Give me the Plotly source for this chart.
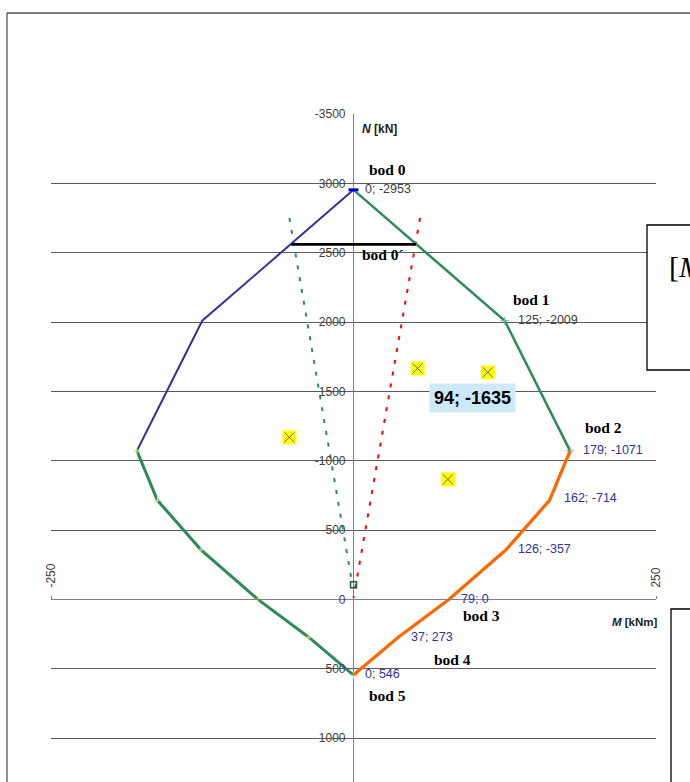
import plotly.graph_objects as go

# ---------------- data (M [kNm], N [kN]) ----------------
upper_left_M = [0, -125, -179]
upper_right_M = [0, 125, 179]
upper_N = [-2953, -2009, -1071]

lower_left_M = [-179, -162, -126, -79, -37, 0]
lower_right_M = [179, 162, 126, 79, 37, 0]
lower_N = [-1071, -714, -357, 0, 273, 546]

bod0p_M = [-51.5, 51.5]
bod0p_N = [-2560, -2560]

ecc_green_M = [-53, -1]
ecc_green_N = [-2750, -110]
ecc_red_M = [55, 0]
ecc_red_N = [-2750, -10]

load_M = [53, 111, -53, 78]
load_N = [-1665, -1637, -1168, -865]

origin_M = [0]
origin_N = [-105]

result_text = "94; -1635"
result_pos = (98, -1449)

value_labels = [
    ("0; -2953", 7.5, -2956, "#404040"),
    ("125; -2009", 134, -2011, "#404040"),
    ("179; -1071", 188, -1074, "#333399"),
    ("162; -714", 172, -728, "#333399"),
    ("126; -357", 134, -360, "#333399"),
    ("79; 0", 87, 0, "#333399"),
    ("37; 273", 46, 274, "#333399"),
    ("0; 546", 8, 535, "#333399"),
]

bod_labels = [
    ("bod 0", 11, -3100),
    ("bod 0´", 5, -2487),
    ("bod 1", 130, -2163),
    ("bod 2", 190, -1240),
    ("bod 3", 89, 115),
    ("bod 4", 65, 433),
    ("bod 5", 11, 692),
]

y_tick_vals = [-3500, -3000, -2500, -2000, -1500, -1000, -500, 0, 500, 1000]
y_tick_text = ["-3500", "3000", "2500", "2000", "1500", "-1000", "-500", "0", "500", "1000"]
x_tick_vals = [-250, 250]
x_tick_text = ["-250", "250"]

SANS = "Liberation Sans, Arial, sans-serif"
SERIF = "Liberation Serif, Times New Roman, serif"

BLUE = "#333399"
GREEN = "#2e8b57"
ORANGE = "#ff6600"
RED = "#ff0000"

W, H = 690, 782
px_per_N = 624 / 4500.0
y_bottom = 1000 + 44 / px_per_N

fig = go.Figure()

fig.add_trace(go.Scatter(x=ecc_green_M, y=ecc_green_N, mode="lines",
                         line=dict(color=GREEN, width=2, dash="4px,8px"), hoverinfo="skip"))
fig.add_trace(go.Scatter(x=ecc_red_M, y=ecc_red_N, mode="lines",
                         line=dict(color=RED, width=2, dash="4px,8px"), hoverinfo="skip"))

fig.add_trace(go.Scatter(x=upper_left_M, y=upper_N, mode="lines",
                         line=dict(color=BLUE, width=2)))
fig.add_trace(go.Scatter(x=upper_right_M, y=upper_N, mode="lines+markers",
                         line=dict(color=GREEN, width=2.5),
                         marker=dict(symbol="cross-thin-open", size=6, color="#7fae9a",
                                     line=dict(width=1, color="#7fae9a"))))
fig.add_trace(go.Scatter(x=lower_left_M, y=lower_N, mode="lines+markers",
                         line=dict(color=GREEN, width=3),
                         marker=dict(symbol="cross-thin-open", size=5, color="#d8d890",
                                     line=dict(width=1, color="#d8d890"))))
fig.add_trace(go.Scatter(x=lower_right_M, y=lower_N, mode="lines",
                         line=dict(color=ORANGE, width=3.2)))

fig.add_trace(go.Scatter(x=[upper_left_M[0]], y=[upper_N[0]], mode="markers",
                         marker=dict(symbol="line-ew-open", size=7, color="#0000cc",
                                     line=dict(width=3, color="#0000cc"))))

fig.add_trace(go.Scatter(x=bod0p_M, y=bod0p_N, mode="lines",
                         line=dict(color="black", width=2.8)))

fig.add_trace(go.Scatter(x=origin_M, y=origin_N, mode="markers",
                         marker=dict(symbol="square-open", size=6, color="#1a5e3a",
                                     line=dict(width=1.5, color="#1a5e3a"))))

fig.add_trace(go.Scatter(x=load_M, y=load_N, mode="markers",
                         marker=dict(symbol="square", size=14, color="#ffff00",
                                     line=dict(width=0))))
fig.add_trace(go.Scatter(x=load_M, y=load_N, mode="markers",
                         marker=dict(symbol="x-thin-open", size=10, color="#666666",
                                     line=dict(width=1, color="#666666"))))

annotations = []
for txt, m, n, col in value_labels:
    annotations.append(dict(x=m, y=n, xref="x", yref="y", text=txt, showarrow=False,
                            xanchor="left", yanchor="middle",
                            font=dict(family=SANS, size=12.5, color=col)))
for txt, m, n in bod_labels:
    annotations.append(dict(x=m, y=n, xref="x", yref="y", text="<b>" + txt + "</b>",
                            showarrow=False, xanchor="left", yanchor="middle",
                            font=dict(family=SERIF, size=15.5, color="black")))

annotations.append(dict(x=result_pos[0], y=result_pos[1], xref="x", yref="y",
                        text="<b>" + result_text + "</b>", showarrow=False,
                        xanchor="center", yanchor="middle", bgcolor="#cde8f8",
                        borderpad=4, font=dict(family=SANS, size=18, color="black")))

annotations.append(dict(x=5.5, y=-3389, xref="x", yref="y", text="<b><i>N</i> [kN]</b>",
                        showarrow=False, xanchor="left", yanchor="middle",
                        font=dict(family=SANS, size=12, color="#222222")))
annotations.append(dict(x=212, y=166, xref="x", yref="y", text="<b><i>M</i> [kNm]</b>",
                        showarrow=False, xanchor="left", yanchor="middle",
                        font=dict(family=SANS, size=11.5, color="#222222")))

annotations.append(dict(x=667 / W, y=1 - 266 / H, xref="paper", yref="paper",
                        text="[<i>M</i>", showarrow=False, xanchor="left", yanchor="middle",
                        font=dict(family=SERIF, size=30, color="black")))

shapes = [
    dict(type="rect", xref="paper", yref="paper", x0=647 / W, x1=1.05,
         y0=1 - 370 / H, y1=1 - 225 / H, fillcolor="white",
         line=dict(color="black", width=1.3), layer="above"),
    dict(type="rect", xref="paper", yref="paper", x0=671 / W, x1=1.05,
         y0=-0.05, y1=1 - 609 / H, fillcolor="white",
         line=dict(color="black", width=1.3), layer="above"),
    dict(type="line", xref="paper", yref="paper", x0=7 / W, x1=7 / W,
         y0=-0.05, y1=1 - 13 / H, line=dict(color="#555555", width=1.3)),
    dict(type="line", xref="paper", yref="paper", x0=7 / W, x1=1.05,
         y0=1 - 13 / H, y1=1 - 13 / H, line=dict(color="#555555", width=1.3)),
]

fig.update_layout(
    width=W, height=H, margin=dict(l=0, r=0, t=0, b=0, autoexpand=False),
    paper_bgcolor="white", plot_bgcolor="white", showlegend=False,
    annotations=annotations, shapes=shapes,
    xaxis=dict(domain=[51 / W, 656 / W], range=[-250, 250], anchor="free",
               position=1 - 599 / H, side="top", showline=True, linecolor="#808080",
               linewidth=1, tickmode="array", tickvals=x_tick_vals, ticktext=x_tick_text,
               tickangle=-90, ticks="outside", ticklen=3, tickcolor="#808080",
               tickfont=dict(family=SANS, size=12, color="#404040"),
               ticklabelstandoff=6, showgrid=False, zeroline=True,
               zerolinecolor="#808080", zerolinewidth=1, automargin=False),
    yaxis=dict(domain=[0, 1 - 114 / H], range=[y_bottom, -3500], anchor="free",
               position=353.5 / W, tickmode="array", tickvals=y_tick_vals,
               ticktext=y_tick_text, ticks="", showline=False, zeroline=False,
               showgrid=True, gridcolor="#5a5a5a", gridwidth=1,
               tickfont=dict(family=SANS, size=12, color="#404040"),
               ticklabelstandoff=8, automargin=False),
)

fig.write_html("out.html")
